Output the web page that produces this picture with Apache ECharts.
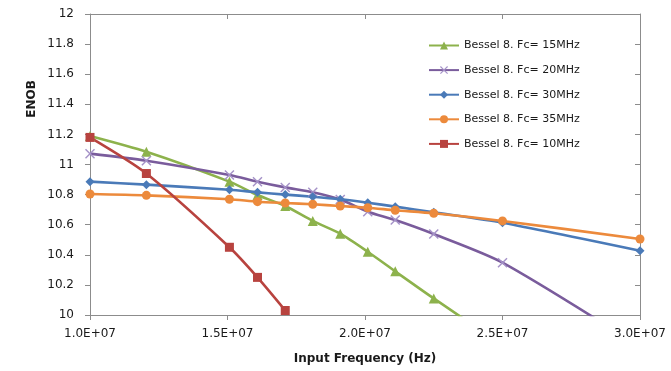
<!DOCTYPE html>
<html>
<head>
<meta charset="utf-8">
<script src="https://cdn.jsdelivr.net/npm/echarts@6/dist/echarts.min.js"></script>
<style>
  html, body { margin: 0; padding: 0; background: #fff; }
  #chart { width: 671px; height: 371px; }
</style>
</head>
<body>
<div id="chart"></div>
<script>
// Input frequencies (Hz) shared by all filter sweeps
const freqHz = [1.0e7, 1.205e7, 1.507e7, 1.609e7, 1.71e7, 1.81e7, 1.91e7, 2.01e7, 2.11e7, 2.25e7, 2.5e7, 3.0e7];

// ENOB measured for each Bessel 8th-order cut-off frequency
const enobFc15 = [11.19, 11.085, 10.886, 10.797, 10.724, 10.625, 10.54, 10.42, 10.29, 10.11, 9.80];
const enobFc20 = [11.072, 11.025, 10.93, 10.886, 10.848, 10.815, 10.767, 10.686, 10.631, 10.538, 10.348, 9.79];
const enobFc30 = [10.886, 10.866, 10.832, 10.815, 10.80, 10.786, 10.769, 10.746, 10.72, 10.682, 10.613, 10.427];
const enobFc35 = [10.804, 10.795, 10.769, 10.753, 10.744, 10.736, 10.724, 10.713, 10.696, 10.676, 10.625, 10.505];
const enobFc10 = [11.18, 10.94, 10.45, 10.25, 10.03];

const seriesNames = ['Bessel 8. Fc= 15MHz', 'Bessel 8. Fc= 20MHz', 'Bessel 8. Fc= 30MHz', 'Bessel 8. Fc= 35MHz', 'Bessel 8. Fc= 10MHz'];

const xTicks = { min: 1.0e7, max: 3.0e7, interval: 5e6 };
const yTicks = { min: 10, max: 12, interval: 0.2 };

function pairs(values) {
  return values.map((v, i) => [freqHz[i], v]);
}

const X_MARK = 'path://M0,1L1,0L5,4L9,0L10,1L6,5L10,9L9,10L5,6L1,10L0,9L4,5Z';

const font = 'DejaVu Sans';
const axisGray = '#8c8c8c';

function lineSeries(name, values, color, symbol, size, markColor) {
  return {
    name: name,
    type: 'line',
    data: pairs(values),
    smooth: 0.25,
    clip: true,
    symbol: symbol,
    symbolSize: size,
    showAllSymbol: true,
    lineStyle: { color: color, width: 2.6 },
    itemStyle: { color: markColor || color },
    emphasis: { disabled: true },
    xAxisIndex: 0,
    yAxisIndex: 0
  };
}

const chart = echarts.init(document.getElementById('chart'), null, { renderer: 'canvas' });

chart.setOption({
  animation: false,
  backgroundColor: '#ffffff',
  grid: { left: 90, right: 31, top: 14, bottom: 56, containLabel: false },
  xAxis: [
    {
      type: 'value',
      min: xTicks.min, max: xTicks.max, interval: xTicks.interval,
      position: 'bottom',
      name: 'Input Frequency (Hz)',
      nameLocation: 'middle',
      nameGap: 38,
      nameTextStyle: { fontFamily: font, fontWeight: 'bold', fontSize: 12, color: '#1a1a1a' },
      axisLine: { show: true, lineStyle: { color: axisGray, width: 1 } },
      axisTick: { show: true, length: 5, lineStyle: { color: axisGray } },
      splitLine: { show: false },
      axisLabel: {
        margin: 13,
        fontFamily: font, fontSize: 12, color: '#1a1a1a',
        formatter: v => v.toExponential(1).toUpperCase().replace('E+7', 'E+07')
      }
    },
    {
      type: 'value',
      min: xTicks.min, max: xTicks.max, interval: xTicks.interval,
      position: 'top',
      axisLine: { show: true, lineStyle: { color: axisGray, width: 1 } },
      axisTick: { show: true, inside: true, length: 5, lineStyle: { color: axisGray } },
      axisLabel: { show: false },
      splitLine: { show: false }
    }
  ],
  yAxis: [
    {
      type: 'value',
      min: yTicks.min, max: yTicks.max, interval: yTicks.interval,
      position: 'left',
      axisLine: { show: true, lineStyle: { color: axisGray, width: 1 } },
      axisTick: { show: true, length: 5, lineStyle: { color: axisGray } },
      splitLine: { show: false },
      axisLabel: {
        margin: 16,
        fontFamily: font, fontSize: 12, color: '#1a1a1a',
        formatter: v => String(Math.round(v * 10) / 10)
      }
    },
    {
      type: 'value',
      min: yTicks.min, max: yTicks.max, interval: yTicks.interval,
      position: 'right',
      axisLine: { show: true, lineStyle: { color: axisGray, width: 1 } },
      axisTick: { show: true, inside: true, length: 5, lineStyle: { color: axisGray } },
      axisLabel: { show: false },
      splitLine: { show: false }
    }
  ],
  legend: {
    orient: 'vertical',
    left: 423,
    top: 35,
    itemWidth: 30,
    itemHeight: 10,
    itemGap: 13.6,
    data: seriesNames,
    textStyle: { fontFamily: font, fontSize: 11, color: '#1a1a1a' }
  },
  graphic: [
    {
      type: 'text',
      x: 32,
      y: 99,
      rotation: Math.PI / 2,
      style: {
        text: 'ENOB',
        fontFamily: font, fontWeight: 'bold', fontSize: 12,
        fill: '#1a1a1a',
        align: 'center', verticalAlign: 'middle'
      }
    }
  ],
  series: [
    lineSeries(seriesNames[0], enobFc15, '#8db24c', 'triangle', 10),
    lineSeries(seriesNames[1], enobFc20, '#7a5c9c', X_MARK, 10, '#a592c8'),
    lineSeries(seriesNames[2], enobFc30, '#4a7ab8', 'diamond', 9),
    lineSeries(seriesNames[3], enobFc35, '#ec8a3c', 'circle', 9),
    lineSeries(seriesNames[4], enobFc10, '#b8433f', 'rect', 9)
  ]
});
</script>
</body>
</html>
